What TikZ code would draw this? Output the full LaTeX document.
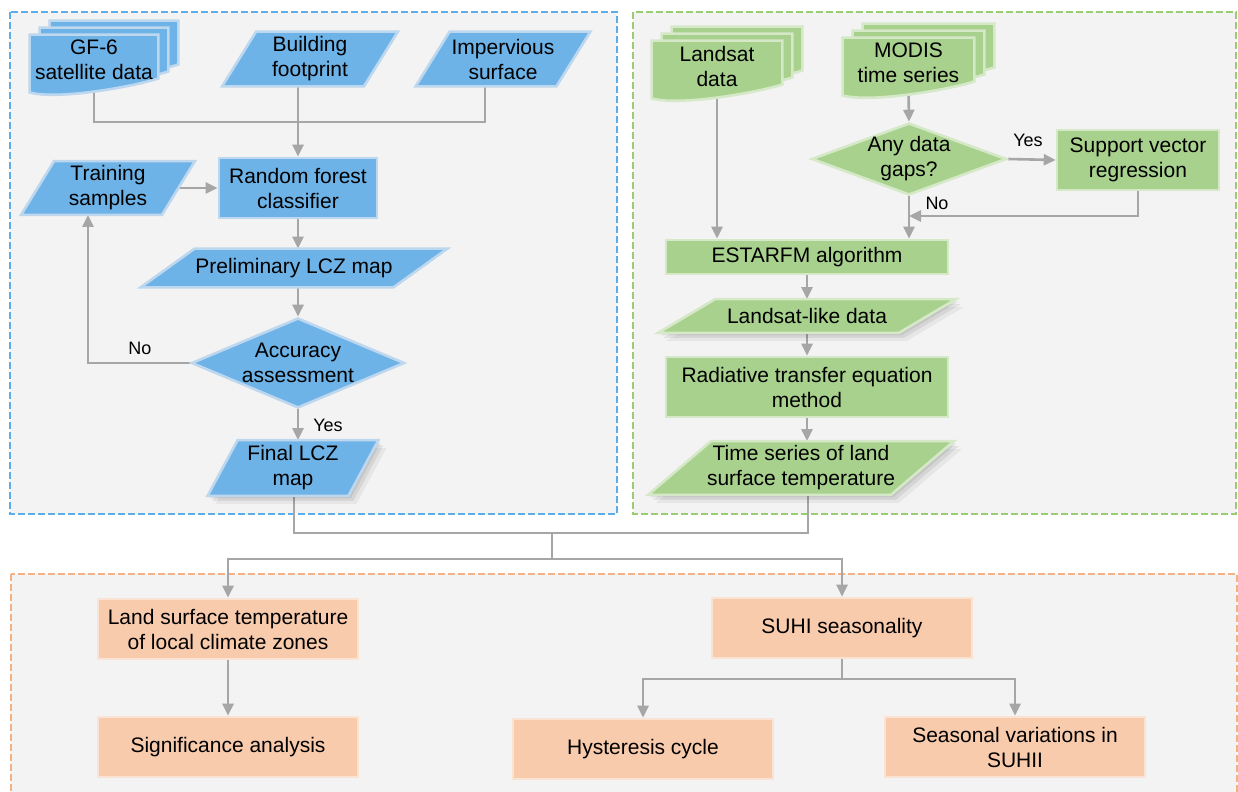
\documentclass[tikz,border=0pt]{standalone}
\usepackage{fontspec}
\setmainfont{Liberation Sans}
\usepackage{tikz}
\usetikzlibrary{arrows.meta,calc,shapes.geometric,shadows}
\usepackage{xcolor}
\definecolor{lczblue}{HTML}{6DB3E7}
\definecolor{lczblueln}{HTML}{BDD7EE}
\definecolor{lczgreen}{HTML}{A9D18E}
\definecolor{lczgreenln}{HTML}{D5E8C7}
\definecolor{lczorange}{HTML}{F8CBAD}
\definecolor{lczorangeln}{HTML}{FBE3D3}
\definecolor{arrgray}{HTML}{A6A6A6}
\definecolor{panelbg}{HTML}{F3F3F3}
\definecolor{dashblue}{HTML}{5DADE8}
\definecolor{dashgreen}{HTML}{9ACC72}
\definecolor{dashorange}{HTML}{F4B183}
\newcommand{\lczfont}{\fontsize{10.5}{12.5}\selectfont}
\newcommand{\docpage}[3]{\path[#3] ($(#1.north west)+#2$) -- ($(#1.north east)+#2$) -- ($(#1.south east)+#2+(0,3.5pt)$) .. controls +(-12pt,-4pt) and +(14pt,-4pt) .. ($(#1.south west)+#2+(0,-3.5pt)$) -- cycle;}
\newcommand{\parpath}[3]{\path[#3] ([xshift=#2]#1.north west) -- ([xshift=#2]#1.north east) -- ([xshift=-#2]#1.south east) -- ([xshift=-#2]#1.south west) -- cycle;}
\pgfdeclarelayer{panel}
\pgfdeclarelayer{lines}
\pgfdeclarelayer{shape}
\pgfsetlayers{panel,lines,shape,main}

\begin{document}
\begin{tikzpicture}[x=0.5pt,y=-0.5pt,
  txt/.style={rectangle,inner sep=0pt,align=center,font=\lczfont},
  box/.style={txt,line width=1.3pt},
  bluebox/.style={box,fill=lczblue,draw=lczblueln},
  greenbox/.style={box,fill=lczgreen,draw=lczgreenln},
  orangebox/.style={box,fill=lczorange,draw=lczorangeln,minimum width=130pt,minimum height=30pt},
  dia/.style={diamond,inner xsep=-8pt,inner ysep=-4pt,align=center,font=\lczfont,line width=1.3pt},
  bluepage/.style={fill=lczblue,draw=lczblueln,line width=1.3pt},
  greenpage/.style={fill=lczgreen,draw=lczgreenln,line width=1.3pt},
  glow/.style={general shadow={fill=black,opacity=0.05,shadow xshift=4pt,shadow yshift=-4pt},
    general shadow={fill=black,opacity=0.07,shadow xshift=2.5pt,shadow yshift=-2.5pt},
    general shadow={fill=black,opacity=0.08,shadow xshift=1.2pt,shadow yshift=-1.2pt}},
  conn/.style={draw=arrgray,line width=1.3pt},
  arr/.style={conn,-{Triangle[length=6pt,width=5.5pt]}},
  lbl/.style={font=\fontsize{9}{10}\selectfont},
  panelline/.style={line width=1pt,dash pattern=on 3.5pt off 1.5pt}]
\useasboundingbox (0,0) rectangle (1238,792);

\begin{pgfonlayer}{panel}
\fill[panelbg] (10,12) rectangle (617,514);
\draw[dashblue,panelline] (10,12) rectangle (617,514);
\fill[panelbg] (633,12) rectangle (1236,514);
\draw[dashgreen,panelline] (633,12) rectangle (1236,514);
\fill[panelbg] (11,574) rectangle (1237,810);
\draw[dashorange,panelline] (11,574) rectangle (1237,810);
\end{pgfonlayer}

\node[txt,minimum width=64pt,minimum height=25pt] (gf6) at (94,60) {GF-6\\satellite data};
\node[txt,minimum width=70.5pt,minimum height=27pt] (build) at (310,59) {Building\\footprint};
\node[txt,minimum width=70pt,minimum height=27pt] (imperv) at (503,59) {Impervious\\surface};
\node[bluebox,minimum width=79pt,minimum height=30pt] (rf) at (298,188) {Random forest\\classifier};
\node[txt,minimum width=70pt,minimum height=26.5pt] (train) at (108,188) {Training\\samples};
\node[txt,minimum width=126pt,minimum height=19pt] (prelim) at (294,268) {Preliminary LCZ map};
\node[dia,aspect=2.37,fill=lczblue,draw=lczblueln,minimum width=106.5pt,minimum height=45pt] (acc) at (298,363) {Accuracy\\assessment};
\node[txt,minimum width=70pt,minimum height=27.5pt] (final) at (293,468) {Final LCZ\\map};

\node[txt,minimum width=65pt,minimum height=25pt] (landsat) at (717,66) {Landsat\\data};
\node[txt,minimum width=65.5pt,minimum height=25pt] (modis) at (908.5,63) {MODIS\\time series};
\node[dia,aspect=2.7,fill=lczgreen,draw=lczgreenln,minimum width=97.5pt,minimum height=36pt] (gaps) at (909,159) {Any data\\gaps?};
\node[greenbox,minimum width=81pt,minimum height=30pt] (svr) at (1138,160) {Support vector\\regression};
\node[greenbox,minimum width=141pt,minimum height=17pt] (estarfm) at (807,257) {ESTARFM algorithm};
\node[txt,minimum width=120pt,minimum height=16.5pt] (llike) at (807,316) {Landsat-like data};
\node[greenbox,minimum width=141pt,minimum height=30pt] (rte) at (807,387) {Radiative transfer equation\\method};
\node[txt,minimum width=121pt,minimum height=26.5pt] (tslst) at (801,468) {Time series of land\\surface temperature};

\node[orangebox] (lstlcz) at (228,629) {Land surface temperature\\of local climate zones};
\node[orangebox] (sig) at (228,747) {Significance analysis};
\node[orangebox] (suhi) at (842,628) {SUHI seasonality};
\node[orangebox] (hyst) at (643,749) {Hysteresis cycle};
\node[orangebox] (seas) at (1015,747) {Seasonal variations in\\SUHII};

\node[lbl] (no1) at (140,348) {No};
\node[lbl] (yes1) at (328,425) {Yes};
\node[lbl] (yes2) at (1028,140) {Yes};
\node[lbl] (no2) at (937,203) {No};

\begin{pgfonlayer}{shape}
\docpage{gf6}{(10pt,7pt)}{bluepage}
\docpage{gf6}{(5pt,3.5pt)}{bluepage}
\docpage{gf6}{(0pt,0pt)}{bluepage}
\docpage{landsat}{(10pt,7pt)}{greenpage}
\docpage{landsat}{(5pt,3.5pt)}{greenpage}
\docpage{landsat}{(0pt,0pt)}{greenpage}
\docpage{modis}{(10pt,7pt)}{greenpage}
\docpage{modis}{(5pt,3.5pt)}{greenpage}
\docpage{modis}{(0pt,0pt)}{greenpage}
\parpath{build}{8.5pt}{bluepage}
\parpath{imperv}{8.5pt}{bluepage}
\parpath{train}{8.25pt}{bluepage}
\parpath{prelim}{13.5pt}{bluepage}
\parpath{final}{7.5pt}{bluepage,glow}
\parpath{llike}{14.25pt}{greenpage,glow}
\parpath{tslst}{15.75pt}{greenpage,glow}
\end{pgfonlayer}

\coordinate (j1) at (298,122);
\coordinate (j2) at (552,533);
\coordinate (j3) at (552,559);
\coordinate (j4) at (909,216);
\coordinate (j5) at (842,679);

\begin{pgfonlayer}{lines}
\draw[conn] (gf6.south) |- (j1) -| ([xshift=-9pt]imperv.south);
\draw[conn] (build.south -| j1) -- (j1);
\draw[arr] (j1) -- (j1 |- rf.north);
\draw[arr] (train.east) -- (rf.west);
\draw[arr] (rf.south) -- (rf.south |- prelim.north);
\draw[arr] (prelim.south -| acc) -- (acc.north);
\draw[arr] (acc.west) -| ([xshift=-10pt]train.south);
\draw[arr] (acc.south) -- (acc.south |- final.north);
\draw[conn] ([xshift=0.5pt]final.south) |- (j2) -| ([xshift=3.5pt]tslst.south);
\draw[conn] (j2) -- (j3);
\draw[arr] (j3) -| (lstlcz.north);
\draw[arr] (j3) -| (suhi.north);
\draw[arr] (landsat.south) -- (landsat.south |- estarfm.north);
\draw[arr] (modis.south) -- (gaps.north);
\draw[arr] (gaps.east) -- (svr.west);
\draw[arr] (svr.south) |- (j4);
\draw[arr] (gaps.south) -- (gaps.south |- estarfm.north);
\draw[arr] (estarfm.south) -- (llike.north);
\draw[arr] (llike.south) -- (rte.north);
\draw[arr] (rte.south) -- (rte.south |- tslst.north);
\draw[arr] (lstlcz.south) -- (sig.north);
\draw[conn] (suhi.south) -- (j5);
\draw[arr] (j5) -| (hyst.north);
\draw[arr] (j5) -| (seas.north);
\end{pgfonlayer}
\end{tikzpicture}
\end{document}
